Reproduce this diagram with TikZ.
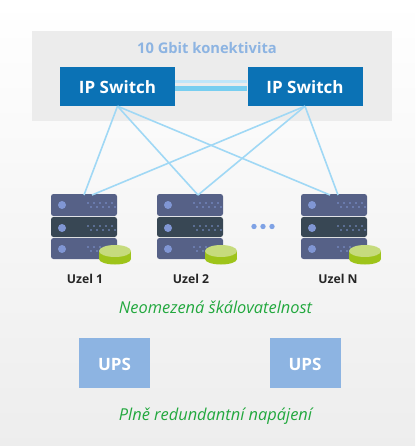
\documentclass[tikz,border=0pt]{standalone}
\usepackage{fontspec}
\setmainfont{Open Sans}
\usepackage{xcolor}
\usetikzlibrary{positioning,calc}
\definecolor{panel}{RGB}{236,236,236}
\definecolor{swblue}{RGB}{11,114,181}
\definecolor{upsblue}{RGB}{141,180,226}
\definecolor{linkblue}{RGB}{160,216,245}
\definecolor{linkthick}{RGB}{120,206,240}
\definecolor{rackblue}{RGB}{86,97,135}
\definecolor{rackdark}{RGB}{56,71,84}
\definecolor{ledblue}{RGB}{128,150,212}
\definecolor{diskside}{RGB}{158,196,26}
\definecolor{disktop}{RGB}{198,219,125}
\definecolor{textgreen}{RGB}{34,168,62}
\tikzset{
  switchbox/.style={fill=swblue, text=white, minimum width=115pt, minimum height=39pt, inner sep=0pt, text height=15pt, text depth=0pt, font=\fontsize{17}{18}\selectfont\bfseries},
  upsbox/.style={fill=upsblue, text=white, minimum width=71pt, minimum height=50pt, inner sep=0pt, text height=14pt, text depth=0pt, font=\fontsize{17}{18}\selectfont\bfseries},
  uzellabel/.style={font=\fontsize{12.2}{14}\selectfont\bfseries, text=black!85},
  greentext/.style={font=\fontsize{16.4}{18}\selectfont\itshape, text=textgreen},
  uplink/.style={linkblue, line width=1.6pt},
  unit/.style={rounded corners=2.5pt},
  uzel/.pic={
    % ---- three rack units
    \foreach \yy/\hh/\cc in {0/22/rackblue, 23/20/rackdark, 44/21/rackblue} {
      \fill[\cc, unit] (0,\yy) rectangle (66,\yy+\hh);
      \fill[ledblue] (11,\yy+11) circle (4);
      \foreach \xx in {37,43,...,61} \fill[ledblue] (\xx,\yy+9) circle (0.8);
      \foreach \xx in {40,46,...,64} \fill[ledblue] (\xx,\yy+13) circle (0.8);
    }
    % ---- disk
    \fill[diskside] (48,57) rectangle (80,65);
    \fill[diskside] (64,65) ellipse (16 and 5.5);
    \fill[disktop] (64,57) ellipse (16 and 6);
  },
}

\begin{document}
\begin{tikzpicture}[x=1pt, y=-1pt]
\useasboundingbox (0,0) rectangle (415,446);
\shade[top color=white, bottom color=black!7] (0,0) rectangle (415,446);
% ---- top: switches
\fill[panel] (32,31) rectangle (392,121);
\node[font=\fontsize{14.7}{16}\selectfont\bfseries, text=upsblue] (title) at (207,48) {10 Gbit konektivita};
\node[switchbox] (swa) at (117.5,86.5) {IP Switch};
\node[switchbox] (swb) at (305,86.5) {IP Switch};
\coordinate (swaup) at ($(swa.east)+(0,-4.5)$);
\coordinate (swbup) at ($(swb.west)+(0,-4.5)$);
\coordinate (swalo) at ($(swa.east)+(0,2.5)$);
\coordinate (swblo) at ($(swb.west)+(0,2.5)$);
\draw[linkblue!65, line width=3pt] (swaup) -- (swbup);
\draw[linkthick, line width=5pt] (swalo) -- (swblo);
% ---- middle: nodes
\pic at (51,194) {uzel};
\pic at (157,194) {uzel};
\pic at (301,194) {uzel};
\coordinate (uzela) at (84,195);
\coordinate (uzelaa) at (92,195);
\coordinate (uzelb) at (198,195);
\coordinate (uzeln) at (330,195);
\coordinate (uzelnn) at (338,195);
\draw[uplink] (swa.south) -- (uzela);
\draw[uplink] (swa.south) -- (uzelb);
\draw[uplink] (swa.south) -- (uzeln);
\draw[uplink] (swb.south) -- (uzelaa);
\draw[uplink] (swb.south) -- (uzelb);
\draw[uplink] (swb.south) -- (uzelnn);
\foreach \xx in {254,263,272} \fill[upsblue!90!blue] (\xx,226.5) circle (2.7);
\node[uzellabel] (la) at (85,279) {Uzel 1};
\node[uzellabel] (lb) at (191,279) {Uzel 2};
\node[uzellabel] (ln) at (338,279) {Uzel N};
\node[greentext] (scale) at (215.5,307) {Neomezená škálovatelnost};
% ---- bottom: power
\node[upsbox] (upsa) at (114.5,363) {UPS};
\node[upsbox] (upsb) at (305,363) {UPS};
\node[greentext] (power) at (215.5,416.5) {Plně redundantní napájení};
\end{tikzpicture}
\end{document}
